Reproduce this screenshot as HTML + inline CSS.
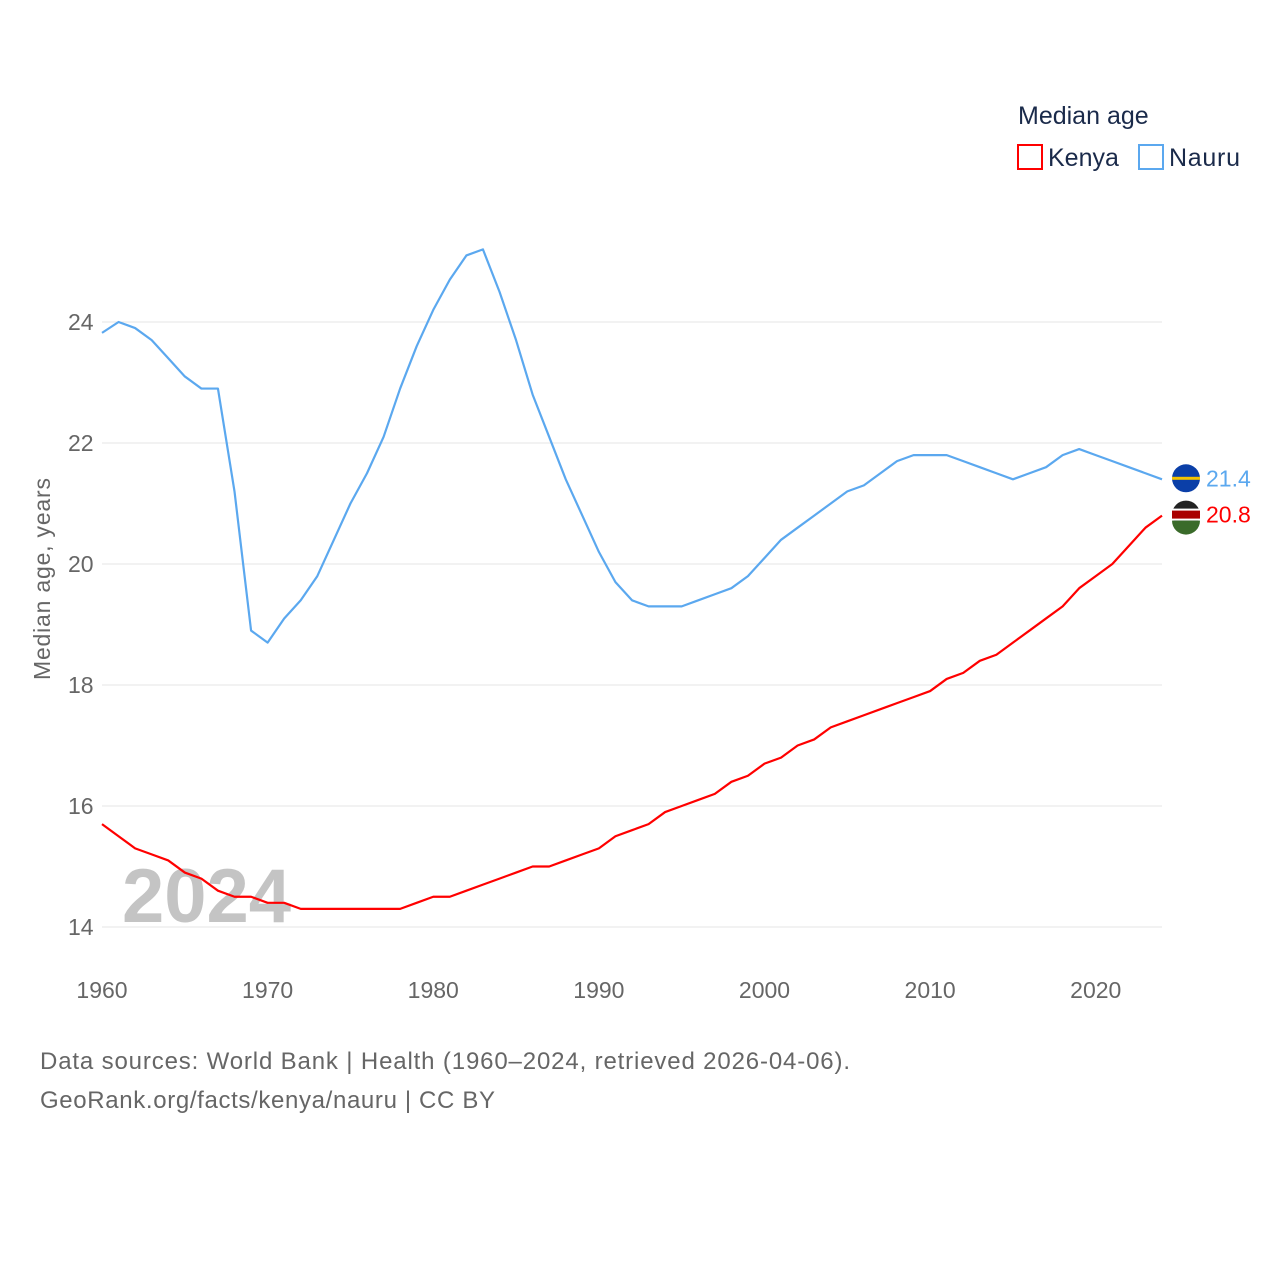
<!DOCTYPE html>
<html><head><meta charset="utf-8"><style>
body{margin:0;background:#fff;width:1280px;height:1280px;overflow:hidden;font-family:"Liberation Sans",sans-serif}
</style></head><body>
<svg id="chart" width="1280" height="1280" xmlns="http://www.w3.org/2000/svg" font-family="Liberation Sans, sans-serif">
<text x="1018" y="124" font-size="25" fill="#1a2a4a">Median age</text>
<g><rect x="1018" y="145" width="24" height="24" fill="none" stroke="#f00" stroke-width="2"/><text x="1048" y="166" font-size="25" fill="#1a2a4a">Kenya</text></g>
<g><rect x="1139" y="145" width="24" height="24" fill="none" stroke="#5ba8ef" stroke-width="2"/><text x="1169" y="166" font-size="25" fill="#1a2a4a" textLength="71">Nauru</text></g>
<text transform="translate(50,579) rotate(-90)" text-anchor="middle" font-size="23" fill="#666" textLength="202">Median age, years</text>
<text x="122" y="922" font-size="76" font-weight="bold" fill="#c4c4c4">2024</text>
<g id="grid"></g><g id="xt"></g><g id="lines"></g>
<text x="40" y="1069" font-size="24" fill="#666" textLength="810">Data sources: World Bank | Health (1960–2024, retrieved 2026-04-06).</text>
<text x="40" y="1108" font-size="24" fill="#666" textLength="455">GeoRank.org/facts/kenya/nauru | CC BY</text>
</svg>
<script>
const years=[];for(let y=1960;y<=2024;y++)years.push(y);
const nauru=[23.82,24.0,23.9,23.7,23.4,23.1,22.9,22.9,21.2,18.9,18.7,19.1,19.4,19.8,20.4,21.0,21.5,22.1,22.9,23.6,24.2,24.7,25.1,25.2,24.5,23.7,22.8,22.1,21.4,20.8,20.2,19.7,19.4,19.3,19.3,19.3,19.4,19.5,19.6,19.8,20.1,20.4,20.6,20.8,21.0,21.2,21.3,21.5,21.7,21.8,21.8,21.8,21.7,21.6,21.5,21.4,21.5,21.6,21.8,21.9,21.8,21.7,21.6,21.5,21.4];
const kenya=[15.7,15.5,15.3,15.2,15.1,14.9,14.8,14.6,14.5,14.5,14.4,14.4,14.3,14.3,14.3,14.3,14.3,14.3,14.3,14.4,14.5,14.5,14.6,14.7,14.8,14.9,15.0,15.0,15.1,15.2,15.3,15.5,15.6,15.7,15.9,16.0,16.1,16.2,16.4,16.5,16.7,16.8,17.0,17.1,17.3,17.4,17.5,17.6,17.7,17.8,17.9,18.1,18.2,18.4,18.5,18.7,18.9,19.1,19.3,19.6,19.8,20.0,20.3,20.6,20.8];
const yTicks=[14,16,18,20,22,24];
const xTicks=[1960,1970,1980,1990,2000,2010,2020];
const X=y=>102+(y-1960)*(1162-102)/64;
const Y=v=>927-(v-14)*60.5;
const NS="http://www.w3.org/2000/svg";
function mk(t,a,p){const e=document.createElementNS(NS,t);for(const k in a)e.setAttribute(k,a[k]);p.appendChild(e);return e;}
const g=document.getElementById('grid');
yTicks.forEach(v=>{
 const l=mk('line',{x1:102,x2:1162,y1:Y(v),y2:Y(v),stroke:'#e6e6e6','stroke-width':1},g);
 
 
 const t=mk('text',{x:68,y:Y(v)+8,'font-size':23,fill:'#666'},g);t.textContent=v;
 
 
});
const xt=document.getElementById('xt');
xTicks.forEach(v=>{
 const t=mk('text',{x:X(v),y:998,'font-size':23,fill:'#666','text-anchor':'middle'},xt);t.textContent=v;
 
 
});
const L=document.getElementById('lines');
function series(vals,color,name,labelDy){
 const p=mk('polyline',{points:vals.map((v,i)=>X(years[i])+','+Y(v)).join(' '),fill:'none',stroke:color,'stroke-width':2.2,'stroke-linejoin':'round'},L);
 
 
 const last=vals[vals.length-1],cx=1186,cy=Y(last)+labelDy;
 const c=mk('circle',{cx:cx,cy:cy,r:14,fill:name==='nauru'?'#0b3fa8':'#222'},L);
 
 
 if(name==='nauru'){mk('rect',{x:1172,y:cy-1.5,width:28,height:3,fill:'#f5c400'},L);}
 else{mk('rect',{x:1172,y:cy-6,width:28,height:12,fill:'#fff'},L);mk('rect',{x:1172,y:cy-4,width:28,height:8,fill:'#a00'},L);mk('path',{d:`M${cx-14},${cy+6} h28 a14 14 0 0 1 -28 0z`,fill:'#3a6b2a'},L);}
 const t=mk('text',{x:1206,y:cy+8,'font-size':23,fill:color},L);t.textContent=last.toFixed(1);
 
 
}
series(kenya,'#f00','kenya',-1);
series(nauru,'#5ba8ef','nauru',-1);
</script>
</body></html>
